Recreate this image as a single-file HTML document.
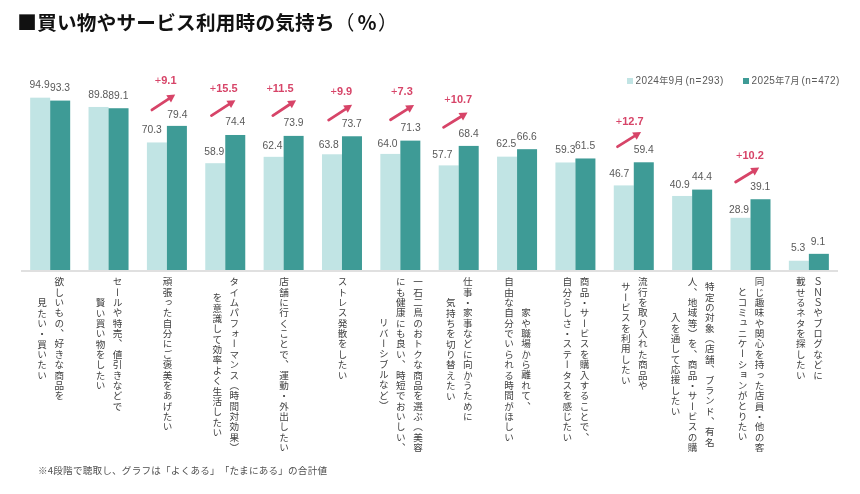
<!DOCTYPE html>
<html lang="ja"><head><meta charset="utf-8"><title>買い物やサービス利用時の気持ち</title>
<style>
html,body{margin:0;padding:0;background:#fff;}
body{text-spacing-trim:space-all;width:860px;height:494px;position:relative;overflow:hidden;font-family:"Liberation Sans","Noto Sans CJK JP",sans-serif;}
#wrap{position:absolute;left:0;top:0;width:860px;height:494px;will-change:transform;}
.abs{position:absolute;}
.title{position:absolute;left:17.3px;top:12.0px;font-size:19.6px;font-weight:bold;color:#111;white-space:nowrap;line-height:1;font-family:"Noto Sans CJK JP",sans-serif;letter-spacing:0.25px;}
.title .n{font-weight:normal;}
.axis{position:absolute;left:21px;width:816.6px;top:270.2px;height:1.6px;background:#e0e0e0;}
.v{position:absolute;width:40px;text-align:center;font-size:10.3px;color:#595959;line-height:1;white-space:nowrap;font-family:"Liberation Sans",sans-serif;}
.p{position:absolute;width:60px;text-align:center;font-size:11px;font-weight:bold;color:#d74468;line-height:1;white-space:nowrap;font-family:"Liberation Sans",sans-serif;}
.p .pl{font-weight:normal;}
.cat{position:absolute;writing-mode:vertical-rl;text-align:center;font-size:9.6px;letter-spacing:0.74px;line-height:17.1px;color:#404040;white-space:nowrap;font-family:"Noto Sans CJK JP",sans-serif;transform:translateX(-50%);}
.leg{position:absolute;font-size:10px;color:#595959;white-space:nowrap;line-height:1;letter-spacing:0.35px;font-family:"Liberation Sans","Noto Sans CJK JP",sans-serif;}
.leg .lp{margin-left:1.7px;}
.leg .eq{padding:0 0.4px;}
.leg .cj{font-size:9px;font-family:"Noto Sans CJK JP",sans-serif;}
.sq{position:absolute;width:5.9px;height:6px;}
.note{position:absolute;left:38px;top:465.7px;font-size:9.6px;letter-spacing:0.2px;color:#505050;white-space:nowrap;line-height:1;font-family:"Noto Sans CJK JP",sans-serif;}
</style></head><body><div id="wrap">
<div class="title">■買い物やサービス利用時の気持ち<span class="n" style="letter-spacing:2.8px">（</span><span style="letter-spacing:1.2px;font-weight:700">％</span><span class="n">）</span></div>
<div class="sq" style="left:627.1px;top:77.8px;background:#c1e4e4"></div>
<div class="leg" style="left:635.6px;top:75.93px">2024<span class="cj">年</span>9<span class="cj">月</span><span class="lp">(</span>n<span class="eq">=</span>293)</div>
<div class="sq" style="left:742.9px;top:77.8px;background:#3e9b96"></div>
<div class="leg" style="left:751.6px;top:75.93px">2025<span class="cj">年</span>7<span class="cj">月</span><span class="lp">(</span>n<span class="eq">=</span>472)</div>
<div class="v" style="left:19.65px;top:79.68px">94.9</div>
<div class="v" style="left:40.00px;top:83.18px">93.3</div>
<div class="cat" style="left:50.18px;top:277.00px">欲しいもの、好きな商品を<br>見たい・買いたい</div>
<div class="v" style="left:78.30px;top:89.58px">89.8</div>
<div class="v" style="left:98.40px;top:91.08px">89.1</div>
<div class="cat" style="left:108.54px;top:277.00px">セールや特売、値引きなどで<br>賢い買い物をしたい</div>
<div class="v" style="left:131.80px;top:124.78px">70.3</div>
<div class="v" style="left:157.40px;top:110.28px">79.4</div>
<div class="cat" style="left:166.90px;top:277.00px">頑張った自分にご褒美をあげたい</div>
<div class="p" style="left:135.70px;top:74.69px"><span class="pl">+</span>9.1</div>
<div class="v" style="left:194.30px;top:147.38px">58.9</div>
<div class="v" style="left:215.20px;top:117.18px">74.4</div>
<div class="cat" style="left:225.26px;top:277.00px">タイムパフォーマンス（時間対効果）<br>を意識して効率よく生活したい</div>
<div class="p" style="left:193.70px;top:83.29px"><span class="pl">+</span>15.5</div>
<div class="v" style="left:252.50px;top:140.68px">62.4</div>
<div class="v" style="left:273.50px;top:118.18px">73.9</div>
<div class="cat" style="left:283.62px;top:277.00px">店舗に行くことで、運動・外出したい</div>
<div class="p" style="left:250.05px;top:83.29px"><span class="pl">+</span>11.5</div>
<div class="v" style="left:308.70px;top:139.58px">63.8</div>
<div class="v" style="left:331.70px;top:118.58px">73.7</div>
<div class="cat" style="left:341.98px;top:277.00px">ストレス発散をしたい</div>
<div class="p" style="left:311.35px;top:85.79px"><span class="pl">+</span>9.9</div>
<div class="v" style="left:367.50px;top:139.28px">64.0</div>
<div class="v" style="left:390.60px;top:123.18px">71.3</div>
<div class="cat" style="left:400.34px;top:277.00px">一石二鳥のおトクな商品を選ぶ（美容<br>にも健康にも良い、時短でおいしい、<br>リバーシブルなど）</div>
<div class="p" style="left:371.95px;top:85.79px"><span class="pl">+</span>7.3</div>
<div class="v" style="left:422.40px;top:150.38px">57.7</div>
<div class="v" style="left:448.60px;top:128.58px">68.4</div>
<div class="cat" style="left:458.70px;top:277.00px">仕事・家事などに向かうために<br>気持ちを切り替えたい</div>
<div class="p" style="left:428.30px;top:94.09px"><span class="pl">+</span>10.7</div>
<div class="v" style="left:486.30px;top:139.18px">62.5</div>
<div class="v" style="left:506.80px;top:131.78px">66.6</div>
<div class="cat" style="left:517.06px;top:277.00px">家や職場から離れて、<br>自由な自分でいられる時間がほしい</div>
<div class="v" style="left:545.40px;top:144.98px">59.3</div>
<div class="v" style="left:565.10px;top:141.28px">61.5</div>
<div class="cat" style="left:575.42px;top:277.00px">商品・サービスを購入することで、<br>自分らしさ・ステータスを感じたい</div>
<div class="v" style="left:599.20px;top:169.18px">46.7</div>
<div class="v" style="left:623.70px;top:144.68px">59.4</div>
<div class="cat" style="left:633.78px;top:277.00px">流行を取り入れた商品や<br>サービスを利用したい</div>
<div class="p" style="left:599.75px;top:115.79px"><span class="pl">+</span>12.7</div>
<div class="v" style="left:659.80px;top:180.38px">40.9</div>
<div class="v" style="left:682.00px;top:172.48px">44.4</div>
<div class="cat" style="left:692.14px;top:277.00px">特定の対象（店舗、ブランド、有名<br>人、地域等）を、商品・サービスの購<br>入を通して応援したい</div>
<div class="v" style="left:719.00px;top:205.28px">28.9</div>
<div class="v" style="left:740.30px;top:182.18px">39.1</div>
<div class="cat" style="left:750.50px;top:277.00px">同じ趣味や関心を持った店員・他の客<br>とコミュニケーションがとりたい</div>
<div class="p" style="left:719.95px;top:149.79px"><span class="pl">+</span>10.2</div>
<div class="v" style="left:778.10px;top:243.48px">5.3</div>
<div class="v" style="left:798.00px;top:236.78px">9.1</div>
<div class="cat" style="left:808.86px;top:277.00px">ＳＮＳやブログなどに<br>載せるネタを探したい</div>
<svg class="abs" style="left:0;top:0" width="860" height="494" viewBox="0 0 860 494"><rect x="30.18" y="97.68" width="20.00" height="172.32" fill="#c1e4e4"/><rect x="50.18" y="100.59" width="20.00" height="169.41" fill="#3e9b96"/><rect x="88.54" y="106.96" width="20.00" height="163.04" fill="#c1e4e4"/><rect x="108.54" y="108.24" width="20.00" height="161.76" fill="#3e9b96"/><rect x="146.90" y="142.45" width="20.00" height="127.55" fill="#c1e4e4"/><rect x="166.90" y="125.89" width="20.00" height="144.11" fill="#3e9b96"/><rect x="205.26" y="163.20" width="20.00" height="106.80" fill="#c1e4e4"/><rect x="225.26" y="134.99" width="20.00" height="135.01" fill="#3e9b96"/><rect x="263.62" y="156.83" width="20.00" height="113.17" fill="#c1e4e4"/><rect x="283.62" y="135.90" width="20.00" height="134.10" fill="#3e9b96"/><rect x="321.98" y="154.28" width="20.00" height="115.72" fill="#c1e4e4"/><rect x="341.98" y="136.27" width="20.00" height="133.73" fill="#3e9b96"/><rect x="380.34" y="153.92" width="20.00" height="116.08" fill="#c1e4e4"/><rect x="400.34" y="140.63" width="20.00" height="129.37" fill="#3e9b96"/><rect x="438.70" y="165.39" width="20.00" height="104.61" fill="#c1e4e4"/><rect x="458.70" y="145.91" width="20.00" height="124.09" fill="#3e9b96"/><rect x="497.06" y="156.65" width="20.00" height="113.35" fill="#c1e4e4"/><rect x="517.06" y="149.19" width="20.00" height="120.81" fill="#3e9b96"/><rect x="555.42" y="162.47" width="20.00" height="107.53" fill="#c1e4e4"/><rect x="575.42" y="158.47" width="20.00" height="111.53" fill="#3e9b96"/><rect x="613.78" y="185.41" width="20.00" height="84.59" fill="#c1e4e4"/><rect x="633.78" y="162.29" width="20.00" height="107.71" fill="#3e9b96"/><rect x="672.14" y="195.96" width="20.00" height="74.04" fill="#c1e4e4"/><rect x="692.14" y="189.59" width="20.00" height="80.41" fill="#3e9b96"/><rect x="730.50" y="217.80" width="20.00" height="52.20" fill="#c1e4e4"/><rect x="750.50" y="199.24" width="20.00" height="70.76" fill="#3e9b96"/><rect x="788.86" y="260.75" width="20.00" height="9.25" fill="#c1e4e4"/><rect x="808.86" y="253.84" width="20.00" height="16.16" fill="#3e9b96"/></svg>
<div class="axis"></div>
<svg class="abs" style="left:0;top:0" width="860" height="494" viewBox="0 0 860 494"><line x1="151.93" y1="109.95" x2="169.45" y2="98.32" stroke="#d74468" stroke-width="2.8" stroke-linecap="round"/><polygon points="175.20,94.50 171.00,102.45 166.24,95.29" fill="#d74468"/><line x1="211.44" y1="115.56" x2="229.59" y2="103.92" stroke="#d74468" stroke-width="2.8" stroke-linecap="round"/><polygon points="235.40,100.20 231.07,108.08 226.43,100.84" fill="#d74468"/><line x1="272.83" y1="115.55" x2="290.34" y2="104.00" stroke="#d74468" stroke-width="2.8" stroke-linecap="round"/><polygon points="296.10,100.20 291.87,108.14 287.14,100.96" fill="#d74468"/><line x1="328.64" y1="120.05" x2="346.32" y2="108.56" stroke="#d74468" stroke-width="2.8" stroke-linecap="round"/><polygon points="352.10,104.80 347.82,112.71 343.13,105.50" fill="#d74468"/><line x1="390.55" y1="119.77" x2="408.25" y2="108.67" stroke="#d74468" stroke-width="2.8" stroke-linecap="round"/><polygon points="414.10,105.00 409.69,112.84 405.12,105.55" fill="#d74468"/><line x1="443.55" y1="127.37" x2="461.63" y2="116.22" stroke="#d74468" stroke-width="2.8" stroke-linecap="round"/><polygon points="467.50,112.60 463.03,120.41 458.52,113.09" fill="#d74468"/><line x1="617.55" y1="146.67" x2="635.25" y2="135.57" stroke="#d74468" stroke-width="2.8" stroke-linecap="round"/><polygon points="641.10,131.90 636.69,139.74 632.12,132.45" fill="#d74468"/><line x1="735.65" y1="181.98" x2="753.31" y2="171.20" stroke="#d74468" stroke-width="2.8" stroke-linecap="round"/><polygon points="759.20,167.60 754.70,175.39 750.22,168.05" fill="#d74468"/></svg>
<div class="note">※4段階で聴取し、グラフは「よくある」「たまにある」の合計値</div>
</div></body></html>
